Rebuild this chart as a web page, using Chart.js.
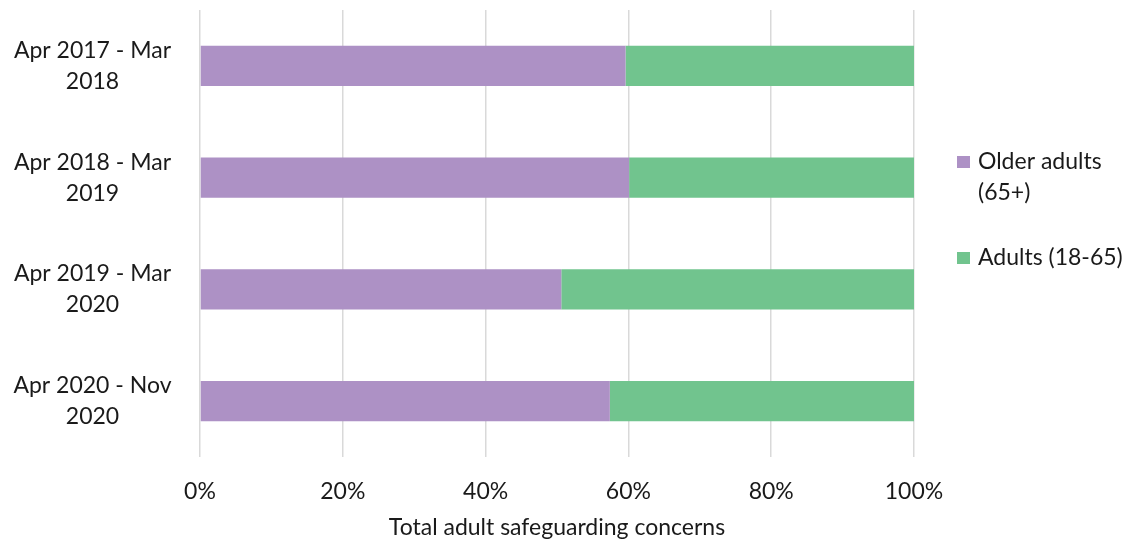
<!DOCTYPE html>
<html>
<head>
<meta charset="utf-8">
<script src="https://cdn.jsdelivr.net/npm/chart.js@4/dist/chart.umd.min.js"></script>
<style>
  html, body { margin: 0; padding: 0; background: #fff; }
  canvas { display: block; }
</style>
</head>
<body>
<canvas id="concerns-chart" width="1137" height="543"></canvas>
<script>
// periods on the y axis (two lines each)
const periods = [
  ['Apr 2017 - Mar', '2018'],
  ['Apr 2018 - Mar', '2019'],
  ['Apr 2019 - Mar', '2020'],
  ['Apr 2020 - Nov', '2020']
];
// share of concerns, percent
const olderAdults = [59.6, 60.1, 50.6, 57.4];
const adults = [40.4, 39.9, 49.4, 42.6];
const seriesNames = ['Older adults (65+)', 'Adults (18-65)'];
const seriesColors = ['#ad91c5', '#71c48e'];
const xTicks = [0, 20, 40, 60, 80, 100];
const xTitle = 'Total adult safeguarding concerns';

const FONT = 'Lato';
const FONT_SIZE = 23;
const TEXT = '#1a1a1a';

// y labels are centred in a 200px wide column, centre at x~92
const measure = document.createElement('canvas').getContext('2d');
measure.font = FONT_SIZE + 'px ' + FONT;
const widest = Math.max(...periods.flat().map(s => measure.measureText(s).width));
const yPad = Math.max(0, 200 - 92.5 - widest / 2);

// legend drawn on the right, wrapping long names like the office chart does
const sideLegend = {
  id: 'sideLegend',
  afterDraw(chart) {
    const ctx = chart.ctx;
    const x = 957, textX = 978, maxW = 1137 - textX - 2;
    let y = 162;
    ctx.save();
    ctx.font = FONT_SIZE + 'px ' + FONT;
    ctx.textBaseline = 'middle';
    ctx.textAlign = 'left';
    chart.data.datasets.forEach(ds => {
      const words = ds.label.split(' ');
      const lines = [];
      let cur = '';
      words.forEach(w => {
        const t = cur ? cur + ' ' + w : w;
        if (ctx.measureText(t).width > maxW && cur) {
          lines.push(cur);
          cur = w;
        } else {
          cur = t;
        }
      });
      lines.push(cur);
      ctx.fillStyle = ds.backgroundColor;
      ctx.fillRect(x, y - 6, 13, 12);
      ctx.fillStyle = TEXT;
      lines.forEach((l, i) => ctx.fillText(l, textX, y + i * 31));
      y += lines.length * 31 + 34;
    });
    ctx.restore();
  }
};

new Chart(document.getElementById('concerns-chart'), {
  type: 'bar',
  data: {
    labels: periods,
    datasets: [
      { label: seriesNames[0], data: olderAdults, backgroundColor: seriesColors[0] },
      { label: seriesNames[1], data: adults, backgroundColor: seriesColors[1] }
    ]
  },
  options: {
    indexAxis: 'y',
    responsive: false,
    animation: false,
    datasets: {
      bar: { categoryPercentage: 1, barPercentage: 0.358, borderWidth: 0 }
    },
    layout: { padding: { top: 10, right: 223, bottom: 0, left: 0 } },
    plugins: {
      legend: { display: false },
      tooltip: { enabled: false }
    },
    scales: {
      x: {
        stacked: true,
        min: 0,
        max: 100,
        afterBuildTicks: axis => { axis.ticks = xTicks.map(v => ({ value: v })); },
        afterFit: axis => { axis.height = 86; },
        grid: { color: '#d9d9d9', lineWidth: 1.5, drawTicks: false },
        border: { display: false },
        ticks: {
          padding: 21,
          color: TEXT,
          font: { family: FONT, size: FONT_SIZE },
          callback: v => v + '%'
        },
        title: {
          display: true,
          text: xTitle,
          color: TEXT,
          font: { family: FONT, size: FONT_SIZE },
          padding: { top: 0, bottom: 2 }
        }
      },
      y: {
        stacked: true,
        afterFit: axis => {
          axis.width = 200;
          // bands are offset, no room needed above/below for the labels
          axis.paddingTop = 0;
          axis.paddingBottom = 0;
        },
        grid: { display: false, drawTicks: false },
        border: { display: false },
        ticks: {
          crossAlign: 'center',
          padding: yPad,
          color: TEXT,
          font: { family: FONT, size: FONT_SIZE, lineHeight: 1.35 }
        }
      }
    }
  },
  plugins: [sideLegend]
});
</script>
</body>
</html>
